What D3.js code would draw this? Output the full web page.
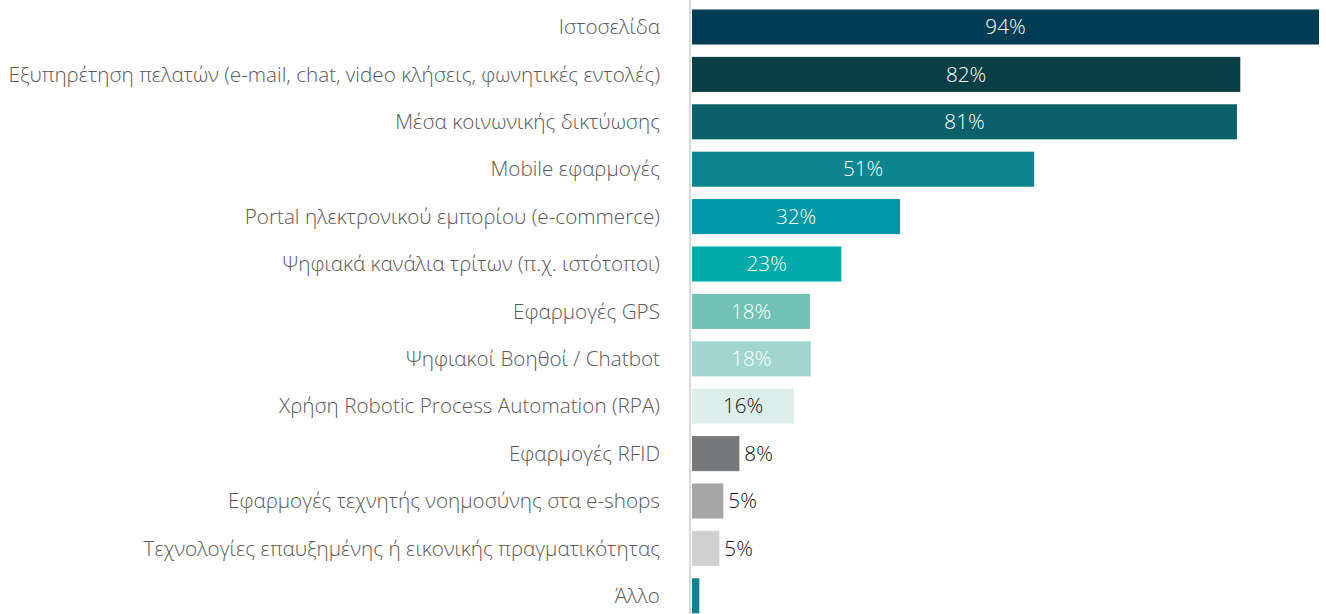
<!DOCTYPE html>
<html><head><meta charset="utf-8">
<script src="https://cdn.jsdelivr.net/npm/d3@7"></script>
<style>body{margin:0;background:#fff;} svg{display:block;}</style>
</head><body>
<svg id="c" width="1326" height="614"></svg>
<script>
const categories = [
  "Ιστοσελίδα",
  "Εξυπηρέτηση πελατών (e-mail, chat, video κλήσεις, φωνητικές εντολές)",
  "Μέσα κοινωνικής δικτύωσης",
  "Mobile εφαρμογές",
  "Portal ηλεκτρονικού εμπορίου (e-commerce)",
  "Ψηφιακά κανάλια τρίτων (π.χ. ιστότοποι)",
  "Εφαρμογές GPS",
  "Ψηφιακοί Βοηθοί / Chatbot",
  "Χρήση Robotic Process Automation (RPA)",
  "Εφαρμογές RFID",
  "Εφαρμογές τεχνητής νοημοσύνης στα e-shops",
  "Τεχνολογίες επαυξημένης ή εικονικής πραγματικότητας",
  "Άλλο"
];
const values = [94, 82.2, 81.7, 51.3, 31.2, 22.4, 17.7, 17.8, 15.3, 7.1, 4.7, 4.1, 1.1];
const valueLabels = ["94%", "82%", "81%", "51%", "32%", "23%", "18%", "18%", "16%", "8%", "5%", "5%", ""];
const colors = ["#003d55", "#083f46", "#0b616b", "#0e8490", "#0097a7", "#00aba9", "#72c3b5", "#a2d5d0", "#ddefea", "#76787b", "#a6a6a6", "#d0d0d0", "#0e8490"];
const labelInside = [true, true, true, true, true, true, true, true, true, false, false, false, false];
const labelColors = ["#fff", "#fff", "#fff", "#fff", "#fff", "#fff", "#fff", "#fff", "#111", "#111", "#111", "#111", "#111"];

const svg = d3.select("#c");
const x0 = 692;
const x = d3.scaleLinear().domain([0, 94]).range([x0, 1319]);
const y = d3.scaleBand().domain(categories).range([3.3, 619.5]).paddingInner(0.26).paddingOuter(0.13);

const font = "'Open Sans', 'Noto Sans', sans-serif";

svg.append("line").attr("x1", 690).attr("x2", 690).attr("y1", 0).attr("y2", 614)
  .attr("stroke", "#d9d9d9").attr("stroke-width", 2);

svg.selectAll("rect.bar").data(values).join("rect").attr("class", "bar")
  .attr("x", x0).attr("y", (d, i) => y(categories[i]))
  .attr("width", d => x(d) - x0).attr("height", y.bandwidth())
  .attr("fill", (d, i) => colors[i]);

const cat = svg.selectAll("text.cat").data(categories).join("text").attr("class", "cat")
  .attr("x", 660).attr("y", d => y(d) + y.bandwidth() / 2)
  .attr("dy", "0.35em").attr("text-anchor", "end")
  .attr("font-family", font).attr("font-weight", 300).attr("font-size", 18)
  .attr("fill", "#595959").text(d => d);
const longest = cat.filter((d, i) => i === 1).node().getComputedTextLength();
const fs = 18 * 652 / longest;
cat.attr("font-size", fs);

svg.selectAll("text.val").data(values).join("text").attr("class", "val")
  .attr("x", (d, i) => labelInside[i] ? (x0 + x(d)) / 2 : x(d) + 5)
  .attr("y", (d, i) => y(categories[i]) + y.bandwidth() / 2)
  .attr("dy", "0.35em").attr("text-anchor", (d, i) => labelInside[i] ? "middle" : "start")
  .attr("font-family", font).attr("font-weight", 300)
  .attr("font-size", fs)
  .attr("fill", (d, i) => labelColors[i]).text((d, i) => valueLabels[i]);
</script>
</body></html>
